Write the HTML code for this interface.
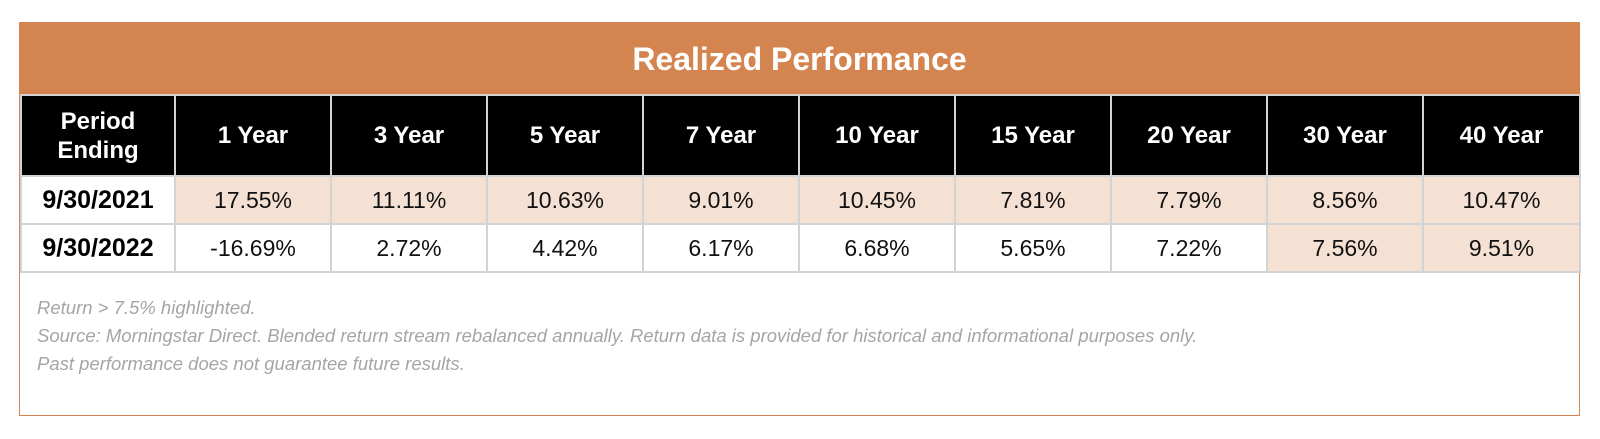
<!DOCTYPE html>
<html><head><style>
body{margin:0;width:1600px;height:439px;background:#fff;font-family:"Liberation Sans",Arial,sans-serif;position:relative;overflow:hidden}
.box{position:absolute;left:19px;top:22px;width:1561px;height:394px;border:1.5px solid #d4844f;box-sizing:border-box}
.title{position:absolute;left:19px;top:22px;width:1561px;height:72px;background:#d4854f;color:#fff;font-weight:bold;font-size:32px;text-align:center;line-height:74px}
table{position:absolute;left:20px;top:94px;border-collapse:collapse;table-layout:fixed}
td{border:2px solid #d3d3d3;text-align:center;padding:0;font-size:23px;color:#111}
tr.h td{background:#000;color:#fff;font-weight:bold;font-size:24px;height:79px;line-height:29px}
tr.r td{height:46px}
tr.r td.p{font-weight:bold;font-size:25px;color:#000}
.hl{background:#f5e1d3}
.note{position:absolute;left:37px;top:294px;color:#a5a5a5;font-style:italic;font-size:18.5px;line-height:28px}
</style></head><body>
<div class="box"></div>
<div class="title">Realized Performance</div>
<table>
<colgroup><col style="width:154px"><col style="width:156px"><col style="width:156px"><col style="width:156px"><col style="width:156px"><col style="width:156px"><col style="width:156px"><col style="width:156px"><col style="width:156px"><col style="width:157px"></colgroup>
<tr class="h"><td>Period<br>Ending</td><td>1 Year</td><td>3 Year</td><td>5 Year</td><td>7 Year</td><td>10 Year</td><td>15 Year</td><td>20 Year</td><td>30 Year</td><td>40 Year</td></tr>
<tr class="r"><td class="p">9/30/2021</td><td class="hl">17.55%</td><td class="hl">11.11%</td><td class="hl">10.63%</td><td class="hl">9.01%</td><td class="hl">10.45%</td><td class="hl">7.81%</td><td class="hl">7.79%</td><td class="hl">8.56%</td><td class="hl">10.47%</td></tr>
<tr class="r"><td class="p">9/30/2022</td><td>-16.69%</td><td>2.72%</td><td>4.42%</td><td>6.17%</td><td>6.68%</td><td>5.65%</td><td>7.22%</td><td class="hl">7.56%</td><td class="hl">9.51%</td></tr>
</table>
<div class="note">Return &gt; 7.5% highlighted.<br>Source: Morningstar Direct. Blended return stream rebalanced annually. Return data is provided for historical and informational purposes only.<br>Past performance does not guarantee future results.</div>
</body></html>
